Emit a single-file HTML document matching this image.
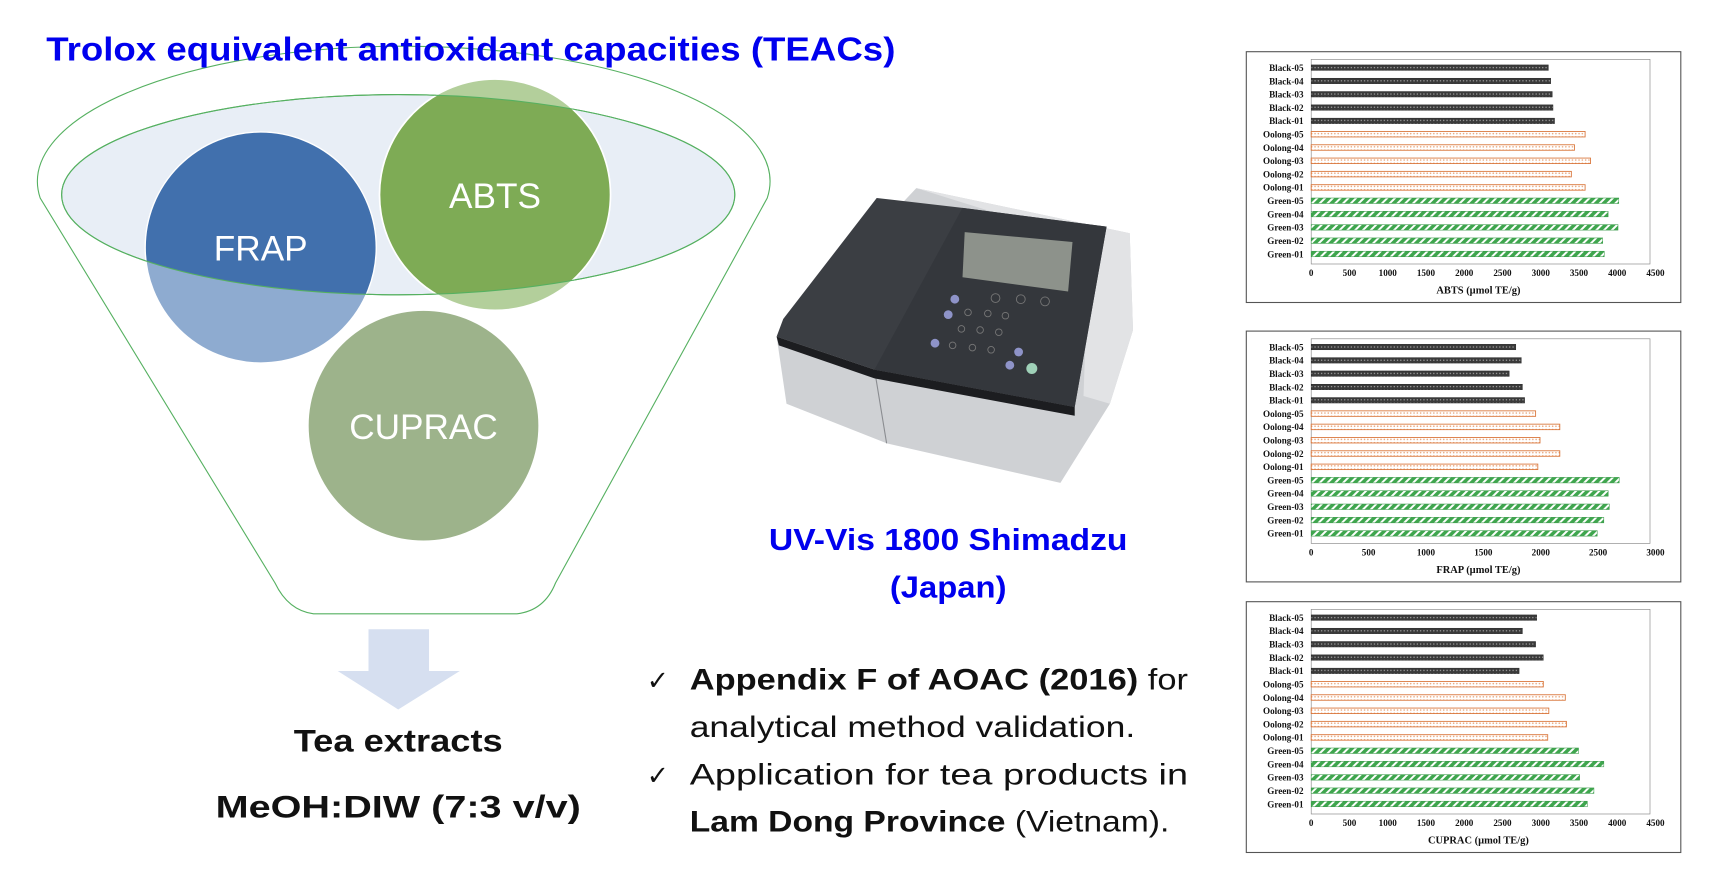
<!DOCTYPE html>
<html><head><meta charset="utf-8"><style>
html,body{margin:0;padding:0;background:#fff;width:1718px;height:890px;overflow:hidden}
svg{display:block}
.t{font-family:"Liberation Sans",sans-serif}
.lab{font-family:"Liberation Serif",serif;font-size:8.3px;font-weight:bold;fill:#111;text-anchor:end}
.tick{font-family:"Liberation Serif",serif;font-size:8.3px;font-weight:bold;fill:#111;text-anchor:middle}
.ax{font-family:"Liberation Serif",serif;font-size:9.5px;font-weight:bold;fill:#111;text-anchor:middle}
.bk{fill:url(#bdots);stroke:#222;stroke-width:.4}
.oo{fill:url(#dots);stroke:#d9763b;stroke-width:.8}
.gr{fill:url(#stripe);stroke:#3a9a4a;stroke-width:.5}
</style></head><body>
<svg width="1718" height="890" viewBox="0 0 1561.8 809.1" xmlns="http://www.w3.org/2000/svg">
<defs>
<pattern id="stripe" width="5" height="5" patternUnits="userSpaceOnUse" patternTransform="rotate(45)">
<rect width="5" height="5" fill="#fff"/><rect width="3.2" height="5" fill="#3fa64e"/></pattern>
<pattern id="dots" width="3" height="3" patternUnits="userSpaceOnUse">
<rect width="3" height="3" fill="#fff"/><circle cx="1.5" cy="1.5" r=".7" fill="#e9a57a"/></pattern>
<pattern id="bdots" width="3" height="3" patternUnits="userSpaceOnUse">
<rect width="3" height="3" fill="#3a3a3a"/><circle cx="1.5" cy="1.5" r=".6" fill="#aaa"/></pattern>
<clipPath id="ell"><ellipse cx="362" cy="177" rx="306" ry="91"/></clipPath>
</defs>

<!-- funnel -->
<path d="M36.5,180 A333,123 0 1 1 697.5,180 L505,530 Q495,555 470,558 L285,558 Q262,555 250,530 Z" fill="none" stroke="#55b060" stroke-width="1"/>
<ellipse cx="362" cy="177" rx="306" ry="91" fill="#e8eef6" stroke="#55b060" stroke-width="1"/>

<circle cx="237" cy="225" r="105" fill="#8eabd0" stroke="#fff" stroke-width="1.2"/>
<circle cx="450" cy="177" r="105" fill="#b3cf9b" stroke="#fff" stroke-width="1.2"/>
<circle cx="237" cy="225" r="105" fill="#4170ad" stroke="#fff" stroke-width="1.2" clip-path="url(#ell)"/>
<circle cx="450" cy="177" r="105" fill="#7eab55" stroke="#fff" stroke-width="1.5" clip-path="url(#ell)"/>
<ellipse cx="362" cy="177" rx="306" ry="91" fill="none" stroke="#55b060" stroke-width="1"/>
<circle cx="385" cy="387" r="105" fill="#9db38b" stroke="#fff" stroke-width="1.2"/>
<text x="237" y="237" class="t" font-size="32" fill="#fff" text-anchor="middle">FRAP</text>
<text x="450" y="189" class="t" font-size="32" fill="#fff" text-anchor="middle">ABTS</text>
<text x="385" y="399" class="t" font-size="32" fill="#fff" text-anchor="middle">CUPRAC</text>

<text x="428" y="55" class="t" font-size="30" font-weight="bold" fill="#0000ee" text-anchor="middle" textLength="772" lengthAdjust="spacingAndGlyphs">Trolox equivalent antioxidant capacities (TEACs)</text>

<!-- arrow -->
<path d="M335,572 L390,572 L390,610 L418,610 L362,645 L307,610 L335,610 Z" fill="#d6dff0"/>
<text x="362" y="683" class="t" font-size="29" font-weight="bold" fill="#111" text-anchor="middle" textLength="190" lengthAdjust="spacingAndGlyphs">Tea extracts</text>
<text x="362" y="743" class="t" font-size="29" font-weight="bold" fill="#111" text-anchor="middle" textLength="332" lengthAdjust="spacingAndGlyphs">MeOH:DIW (7:3 v/v)</text>

<!-- spectrophotometer -->
<polygon points="833,171 1027,212 1030,300 1009,367 964,439 806,403 715,367 706,306" fill="#cfd1d4"/>
<polygon points="833,171 1027,212 1030,300 1009,367 985,360 990,220" fill="#e2e3e5"/>
<line x1="795" y1="336" x2="806" y2="403" stroke="#8a8c90" stroke-width="1"/>
<polygon points="797,180 875,189 1006,206 977,370 795,336 706,306 712,290" fill="#3b3e43"/>
<polygon points="875,189 1006,206 977,370 795,336" fill="#34373c"/>
<polygon points="706,306 795,336 977,370 977,378 795,344 708,314" fill="#1c1d20"/>
<polygon points="877,211 975,220 971,265 875,252" fill="#8d928b"/>
<g fill="#8e93c8"><circle cx="868" cy="272" r="4"/><circle cx="862" cy="286" r="4"/><circle cx="850" cy="312" r="4"/><circle cx="926" cy="320" r="4"/><circle cx="918" cy="332" r="4"/></g>
<circle cx="938" cy="335" r="5" fill="#9fd1b8"/>
<g fill="none" stroke="#777" stroke-width=".8">
<circle cx="905" cy="271" r="4"/><circle cx="928" cy="272" r="4"/><circle cx="950" cy="274" r="4"/>
<circle cx="880" cy="284" r="3"/><circle cx="898" cy="285" r="3"/><circle cx="914" cy="287" r="3"/>
<circle cx="874" cy="299" r="3"/><circle cx="891" cy="300" r="3"/><circle cx="908" cy="302" r="3"/>
<circle cx="866" cy="314" r="3"/><circle cx="884" cy="316" r="3"/><circle cx="901" cy="318" r="3"/></g>

<text x="862" y="500" class="t" font-size="28" font-weight="bold" fill="#0000ee" text-anchor="middle" textLength="326" lengthAdjust="spacingAndGlyphs">UV-Vis 1800 Shimadzu</text>
<text x="862" y="543" class="t" font-size="28" font-weight="bold" fill="#0000ee" text-anchor="middle" textLength="106" lengthAdjust="spacingAndGlyphs">(Japan)</text>

<!-- checklist -->
<g class="t" font-size="27" fill="#111">
<text x="588" y="627" font-size="24">✓</text>
<text x="627" y="627" textLength="453" lengthAdjust="spacingAndGlyphs"><tspan font-weight="bold">Appendix F of AOAC (2016)</tspan> for</text>
<text x="627" y="670" textLength="405" lengthAdjust="spacingAndGlyphs">analytical method validation.</text>
<text x="588" y="713" font-size="24">✓</text>
<text x="627" y="713" textLength="453" lengthAdjust="spacingAndGlyphs">Application for tea products in</text>
<text x="627" y="756" textLength="436" lengthAdjust="spacingAndGlyphs"><tspan font-weight="bold">Lam Dong Province</tspan> (Vietnam).</text>
</g>

<!-- CHART 1 ABTS -->
<g>
<rect x="1133" y="47" width="395" height="228" fill="#fff" stroke="#555" stroke-width="1"/>
<rect x="1192" y="54" width="308" height="186" fill="none" stroke="#888" stroke-width=".6"/>
<text class="lab" x="1185" y="64.5">Black-05</text><text class="lab" x="1185" y="76.6">Black-04</text><text class="lab" x="1185" y="88.7">Black-03</text><text class="lab" x="1185" y="100.8">Black-02</text><text class="lab" x="1185" y="112.9">Black-01</text>
<text class="lab" x="1185" y="125">Oolong-05</text><text class="lab" x="1185" y="137.1">Oolong-04</text><text class="lab" x="1185" y="149.2">Oolong-03</text><text class="lab" x="1185" y="161.3">Oolong-02</text><text class="lab" x="1185" y="173.4">Oolong-01</text>
<text class="lab" x="1185" y="185.5">Green-05</text><text class="lab" x="1185" y="197.6">Green-04</text><text class="lab" x="1185" y="209.7">Green-03</text><text class="lab" x="1185" y="221.8">Green-02</text><text class="lab" x="1185" y="233.9">Green-01</text>
<rect class="bk" x="1192" y="59" width="215.6" height="5"/><rect class="bk" x="1192" y="71.1" width="217.7" height="5"/><rect class="bk" x="1192" y="83.2" width="219.1" height="5"/><rect class="bk" x="1192" y="95.3" width="219.8" height="5"/><rect class="bk" x="1192" y="107.4" width="221.2" height="5"/>
<rect class="oo" x="1192" y="119.5" width="249" height="5"/><rect class="oo" x="1192" y="131.6" width="239.3" height="5"/><rect class="oo" x="1192" y="143.7" width="253.9" height="5"/><rect class="oo" x="1192" y="155.8" width="236.5" height="5"/><rect class="oo" x="1192" y="167.9" width="249" height="5"/>
<rect class="gr" x="1192" y="180" width="279.6" height="5"/><rect class="gr" x="1192" y="192.1" width="269.9" height="5"/><rect class="gr" x="1192" y="204.2" width="278.9" height="5"/><rect class="gr" x="1192" y="216.3" width="265" height="5"/><rect class="gr" x="1192" y="228.4" width="266.4" height="5"/>
<text class="tick" x="1192" y="251">0</text><text class="tick" x="1226.8" y="251">500</text><text class="tick" x="1261.6" y="251">1000</text><text class="tick" x="1296.3" y="251">1500</text><text class="tick" x="1331.1" y="251">2000</text><text class="tick" x="1365.9" y="251">2500</text><text class="tick" x="1400.7" y="251">3000</text><text class="tick" x="1435.4" y="251">3500</text><text class="tick" x="1470.2" y="251">4000</text><text class="tick" x="1505" y="251">4500</text>
<text class="ax" x="1344" y="267">ABTS (µmol TE/g)</text>
</g>

<!-- CHART 2 FRAP -->
<g transform="translate(0,254)">
<rect x="1133" y="47" width="395" height="228" fill="#fff" stroke="#555" stroke-width="1"/>
<rect x="1192" y="54" width="308" height="186" fill="none" stroke="#888" stroke-width=".6"/>
<text class="lab" x="1185" y="64.5">Black-05</text><text class="lab" x="1185" y="76.6">Black-04</text><text class="lab" x="1185" y="88.7">Black-03</text><text class="lab" x="1185" y="100.8">Black-02</text><text class="lab" x="1185" y="112.9">Black-01</text>
<text class="lab" x="1185" y="125">Oolong-05</text><text class="lab" x="1185" y="137.1">Oolong-04</text><text class="lab" x="1185" y="149.2">Oolong-03</text><text class="lab" x="1185" y="161.3">Oolong-02</text><text class="lab" x="1185" y="173.4">Oolong-01</text>
<text class="lab" x="1185" y="185.5">Green-05</text><text class="lab" x="1185" y="197.6">Green-04</text><text class="lab" x="1185" y="209.7">Green-03</text><text class="lab" x="1185" y="221.8">Green-02</text><text class="lab" x="1185" y="233.9">Green-01</text>
<rect class="bk" x="1192" y="59" width="186" height="5"/><rect class="bk" x="1192" y="71.1" width="191" height="5"/><rect class="bk" x="1192" y="83.2" width="180" height="5"/><rect class="bk" x="1192" y="95.3" width="192" height="5"/><rect class="bk" x="1192" y="107.4" width="194" height="5"/>
<rect class="oo" x="1192" y="119.5" width="204" height="5"/><rect class="oo" x="1192" y="131.6" width="226" height="5"/><rect class="oo" x="1192" y="143.7" width="208" height="5"/><rect class="oo" x="1192" y="155.8" width="226" height="5"/><rect class="oo" x="1192" y="167.9" width="206" height="5"/>
<rect class="gr" x="1192" y="180" width="280" height="5"/><rect class="gr" x="1192" y="192.1" width="270" height="5"/><rect class="gr" x="1192" y="204.2" width="271" height="5"/><rect class="gr" x="1192" y="216.3" width="266" height="5"/><rect class="gr" x="1192" y="228.4" width="260" height="5"/>
<text class="tick" x="1192" y="251">0</text><text class="tick" x="1244.2" y="251">500</text><text class="tick" x="1296.3" y="251">1000</text><text class="tick" x="1348.5" y="251">1500</text><text class="tick" x="1400.7" y="251">2000</text><text class="tick" x="1452.8" y="251">2500</text><text class="tick" x="1505" y="251">3000</text>
<text class="ax" x="1344" y="267">FRAP (µmol TE/g)</text>
</g>

<!-- CHART 3 CUPRAC -->
<g transform="translate(0,500)">
<rect x="1133" y="47" width="395" height="228" fill="#fff" stroke="#555" stroke-width="1"/>
<rect x="1192" y="54" width="308" height="186" fill="none" stroke="#888" stroke-width=".6"/>
<text class="lab" x="1185" y="64.5">Black-05</text><text class="lab" x="1185" y="76.6">Black-04</text><text class="lab" x="1185" y="88.7">Black-03</text><text class="lab" x="1185" y="100.8">Black-02</text><text class="lab" x="1185" y="112.9">Black-01</text>
<text class="lab" x="1185" y="125">Oolong-05</text><text class="lab" x="1185" y="137.1">Oolong-04</text><text class="lab" x="1185" y="149.2">Oolong-03</text><text class="lab" x="1185" y="161.3">Oolong-02</text><text class="lab" x="1185" y="173.4">Oolong-01</text>
<text class="lab" x="1185" y="185.5">Green-05</text><text class="lab" x="1185" y="197.6">Green-04</text><text class="lab" x="1185" y="209.7">Green-03</text><text class="lab" x="1185" y="221.8">Green-02</text><text class="lab" x="1185" y="233.9">Green-01</text>
<rect class="bk" x="1192" y="59" width="205" height="5"/><rect class="bk" x="1192" y="71.1" width="192" height="5"/><rect class="bk" x="1192" y="83.2" width="204" height="5"/><rect class="bk" x="1192" y="95.3" width="211" height="5"/><rect class="bk" x="1192" y="107.4" width="189" height="5"/>
<rect class="oo" x="1192" y="119.5" width="211" height="5"/><rect class="oo" x="1192" y="131.6" width="231" height="5"/><rect class="oo" x="1192" y="143.7" width="216" height="5"/><rect class="oo" x="1192" y="155.8" width="232" height="5"/><rect class="oo" x="1192" y="167.9" width="215" height="5"/>
<rect class="gr" x="1192" y="180" width="243" height="5"/><rect class="gr" x="1192" y="192.1" width="266" height="5"/><rect class="gr" x="1192" y="204.2" width="244" height="5"/><rect class="gr" x="1192" y="216.3" width="257" height="5"/><rect class="gr" x="1192" y="228.4" width="251" height="5"/>
<text class="tick" x="1192" y="251">0</text><text class="tick" x="1226.8" y="251">500</text><text class="tick" x="1261.6" y="251">1000</text><text class="tick" x="1296.3" y="251">1500</text><text class="tick" x="1331.1" y="251">2000</text><text class="tick" x="1365.9" y="251">2500</text><text class="tick" x="1400.7" y="251">3000</text><text class="tick" x="1435.4" y="251">3500</text><text class="tick" x="1470.2" y="251">4000</text><text class="tick" x="1505" y="251">4500</text>
<text class="ax" x="1344" y="267">CUPRAC (µmol TE/g)</text>
</g>
</svg>
</body></html>
